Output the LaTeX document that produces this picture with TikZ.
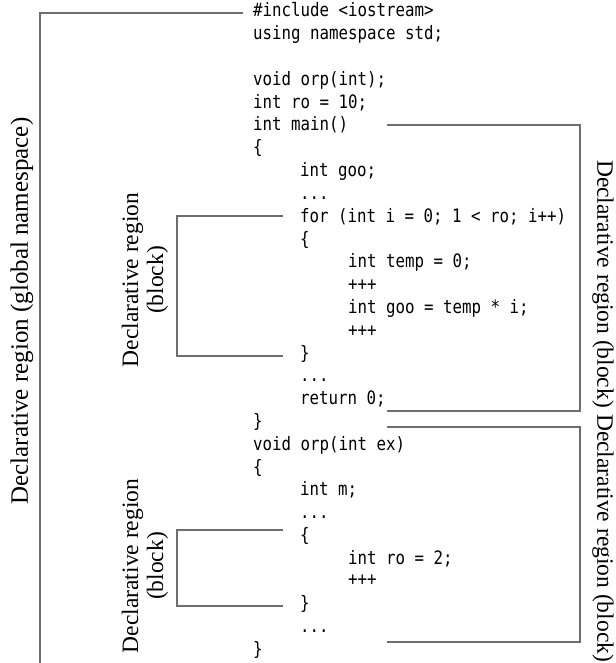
\documentclass[tikz,border=0pt]{standalone}
\usepackage{fontspec}
\setmainfont{Liberation Serif}
\newfontfamily\codefont[FakeStretch=0.853]{DejaVu Sans Mono}
\definecolor{brk}{RGB}{110,110,110}
\begin{document}
\begin{tikzpicture}[x=1pt,y=-1pt,
  code/.style={anchor=base west,inner sep=0pt,font=\codefont\fontsize{18.5}{20}\selectfont},
  lbl/.style={inner sep=0pt,align=center,font=\fontsize{23.5}{25}\selectfont},
  brkline/.style={draw=brk,line width=2.2pt}]
\useasboundingbox (0,0) rectangle (615,663);
% code lines (baseline = 17 + (n-1)*22.8)
\node[code] (l1)  at (253,17)    {\#include <iostream>};
\node[code] (l2)  at (253,39.8)  {using namespace std;};
\node[code] (l4)  at (253,85.4)  {void orp(int);};
\node[code] (l5)  at (253,108.2) {int ro = 10;};
\node[code] (l6)  at (253,131)   {int main()};
\node[code] (l7)  at (253,153.8) {\{};
\node[code] (l8)  at (300,176.6) {int goo;};
\node[code] (l9)  at (300,199.4) {...};
\node[code] (l10) at (300,222.2) {for (int i = 0; 1 < ro; i++)};
\node[code] (l11) at (300,245)   {\{};
\node[code] (l12) at (348,267.8) {int temp = 0;};
\node[code] (l13) at (348,290.6) {+++};
\node[code] (l14) at (348,313.4) {int goo = temp * i;};
\node[code] (l15) at (348,336.2) {+++};
\node[code] (l16) at (300,359)   {\}};
\node[code] (l17) at (300,381.8) {...};
\node[code] (l18) at (300,404.6) {return 0;};
\node[code] (l19) at (253,427.4) {\}};
\node[code] (l20) at (253,450.2) {void orp(int ex)};
\node[code] (l21) at (253,473)   {\{};
\node[code] (l22) at (300,495.8) {int m;};
\node[code] (l23) at (300,518.6) {...};
\node[code] (l24) at (300,541.4) {\{};
\node[code] (l25) at (348,564.2) {int ro = 2;};
\node[code] (l26) at (348,585)   {+++};
\node[code] (l27) at (300,609.8) {\}};
\node[code] (l28) at (300,632.6) {...};
\node[code] (l29) at (253,655.4) {\}};
% bracket coordinates
\coordinate (g1) at (243,13);
\coordinate (g2) at (40,13);
\coordinate (g3) at (40,663);
\coordinate (m1) at (387,125);
\coordinate (m2) at (580,125);
\coordinate (m3) at (580,411);
\coordinate (m4) at (387,411);
\coordinate (o1) at (387,427);
\coordinate (o2) at (580,427);
\coordinate (o3) at (580,642);
\coordinate (o4) at (387,642);
\coordinate (a1) at (283,216);
\coordinate (a2) at (177,216);
\coordinate (a3) at (177,356);
\coordinate (a4) at (283,356);
\coordinate (b1) at (283,530);
\coordinate (b2) at (177,530);
\coordinate (b3) at (177,606);
\coordinate (b4) at (283,606);
\draw[brkline] (g1) -- (g2) -- (g3);
\draw[brkline] (m1) -- (m2) -- (m3) -- (m4);
\draw[brkline] (o1) -- (o2) -- (o3) -- (o4);
\draw[brkline] (a1) -- (a2) -- (a3) -- (a4);
\draw[brkline] (b1) -- (b2) -- (b3) -- (b4);
% labels
\node[lbl,rotate=90,font=\fontsize{25}{27}\selectfont] (lg) at (22,311) {Declarative region (global namespace)};
\node[lbl,rotate=90] (la) at (145,280) {Declarative region\\(block)};
\node[lbl,rotate=90] (lb) at (145,566) {Declarative region\\(block)};
\node[lbl,rotate=-90] (rm) at (603,284) {Declarative region (block)};
\node[lbl,rotate=-90] (ro) at (603,538) {Declarative region (block)};
\end{tikzpicture}
\end{document}
